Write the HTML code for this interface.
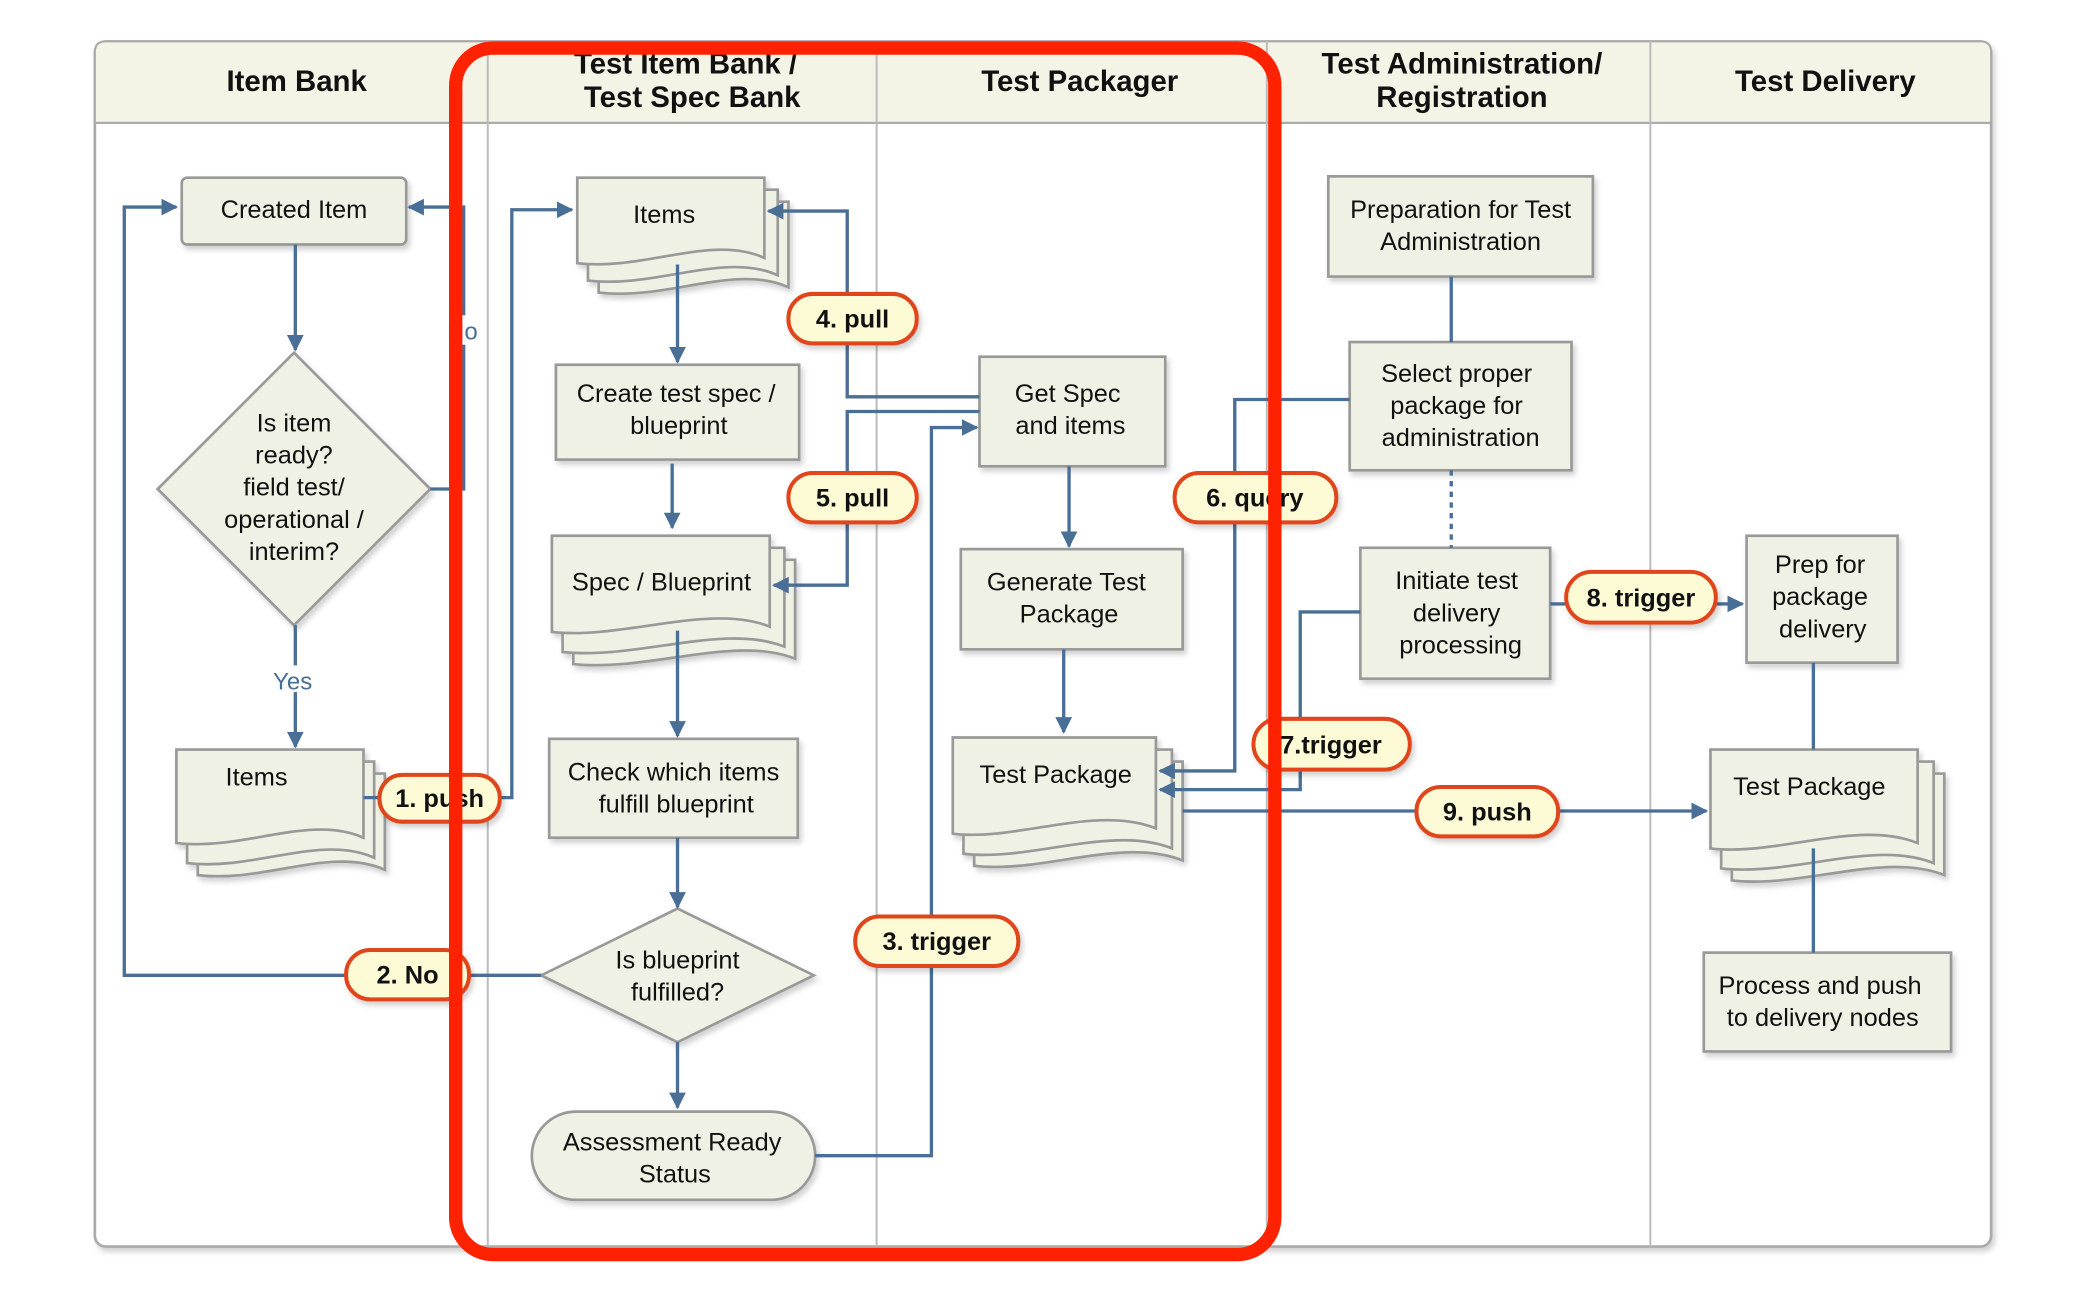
<!DOCTYPE html>
<html><head><meta charset="utf-8"><style>
html,body{margin:0;padding:0;background:#fff;}
svg{display:block;}
text{font-family:"Liberation Sans",sans-serif;}
</style></head><body>
<svg width="2094" height="1296" viewBox="0 0 1567 970" preserveAspectRatio="none" xmlns="http://www.w3.org/2000/svg">
<defs>
<marker id="a" viewBox="0 0 10 10" refX="9" refY="5" markerWidth="5" markerHeight="5" orient="auto-start-reverse"><path d="M0,0 L10,5 L0,10 z" fill="#4a6f96"/></marker>
<filter id="sh" x="-10%" y="-10%" width="130%" height="130%"><feDropShadow dx="2" dy="3" stdDeviation="2" flood-color="#000" flood-opacity="0.18"/></filter>
</defs>
<rect x="71" y="31" width="1419" height="902" rx="8" fill="#fff" stroke="#aaa" stroke-width="2" filter="url(#sh)"/>
<path d="M71,92 V39 Q71,31 79,31 H1482 Q1490,31 1490,39 V92 Z" fill="#f4f4e6" stroke="#aaa" stroke-width="1.5"/>
<line x1="71" y1="92" x2="1490" y2="92" stroke="#aaa" stroke-width="1.5"/>
<g stroke="#bbb" stroke-width="1.5">
<line x1="365" y1="31" x2="365" y2="933"/><line x1="656" y1="31" x2="656" y2="933"/>
<line x1="948" y1="31" x2="948" y2="933"/><line x1="1235" y1="31" x2="1235" y2="933"/>
</g>
<g font-weight="bold" font-size="22" text-anchor="middle" fill="#111">
<text x="222" y="68">Item Bank</text>
<text x="513" y="55">Test Item Bank /</text><text x="518" y="80">Test Spec Bank</text>
<text x="808" y="68">Test Packager</text>
<text x="1094" y="55">Test Administration/</text><text x="1094" y="80">Registration</text>
<text x="1366" y="68">Test Delivery</text>
</g>

<!-- nodes -->
<g fill="#f0f1e5" stroke="#999" stroke-width="2" filter="url(#sh)">
<rect x="136" y="133" width="168" height="50" rx="4"/>
<path d="M220,264 L322,366 L220,468 L118,366 Z"/>
<rect x="416" y="273" width="182" height="71"/>
<rect x="411" y="553" width="186" height="74"/>
<path d="M507,680 L609,730 L507,780 L405,730 Z"/>
<rect x="398" y="832" width="212" height="66" rx="33"/>
<rect x="733" y="267" width="139" height="82"/>
<rect x="719" y="411" width="166" height="75"/>
<rect x="994" y="132" width="198" height="75"/>
<rect x="1010" y="256" width="166" height="96"/>
<rect x="1018" y="410" width="142" height="98"/>
<rect x="1307" y="401" width="113" height="95"/>
<rect x="1275" y="713" width="185" height="74"/>
</g>
<g fill="#f0f1e5" stroke="#999" stroke-width="2">
<g filter="url(#sh)">
<path d="M148,579 h140 v72 c-40,-18 -90,10 -140,4 z"/>
<path d="M140,570 h140 v72 c-40,-18 -90,10 -140,4 z"/>
<path d="M132,561 h140 v66 c-40,-18 -90,10 -140,4 z"/>
</g>
<g filter="url(#sh)">
<path d="M448,151 h142 v64 c-40,-18 -90,10 -142,4 z"/>
<path d="M440,142 h142 v64 c-40,-18 -90,10 -142,4 z"/>
<path d="M432,133 h140 v60 c-40,-18 -90,10 -140,4 z"/>
</g>
<g filter="url(#sh)">
<path d="M429,419 h166 v74 c-45,-18 -110,10 -166,4 z"/>
<path d="M421,410 h166 v74 c-45,-18 -110,10 -166,4 z"/>
<path d="M413,401 h163 v68 c-45,-18 -110,10 -163,4 z"/>
</g>
<g filter="url(#sh)">
<path d="M729,570 h156 v74 c-45,-18 -105,10 -156,4 z"/>
<path d="M721,561 h156 v74 c-45,-18 -105,10 -156,4 z"/>
<path d="M713,552 h152 v68 c-45,-18 -105,10 -152,4 z"/>
</g>
<g filter="url(#sh)">
<path d="M1296,579 h159 v76 c-45,-18 -105,10 -159,4 z"/>
<path d="M1288,570 h159 v76 c-45,-18 -105,10 -159,4 z"/>
<path d="M1280,561 h155 v70 c-45,-18 -105,10 -155,4 z"/>
</g>
</g>

<!-- connectors -->
<g fill="none" stroke="#4a6f96" stroke-width="2.5">
<path d="M221,183 V262" marker-end="url(#a)"/>
<path d="M221,468 V559" marker-end="url(#a)"/>
<path d="M322,366 H347 V155 H306" marker-end="url(#a)"/>
<path d="M272,597 H383 V157 H428" marker-end="url(#a)"/>
<path d="M405,730 H93 V155 H132" marker-end="url(#a)"/>
<path d="M507,198 V271" marker-end="url(#a)"/>
<path d="M503,347 V395" marker-end="url(#a)"/>
<path d="M507,472 V551" marker-end="url(#a)"/>
<path d="M507,627 V679" marker-end="url(#a)"/>
<path d="M507,780 V829" marker-end="url(#a)"/>
<path d="M610,865 H697 V320 H731" marker-end="url(#a)"/>
<path d="M733,297 H634 V158 H575" marker-end="url(#a)"/>
<path d="M733,308 H634 V438 H579" marker-end="url(#a)"/>
<path d="M800,349 V409" marker-end="url(#a)"/>
<path d="M796,486 V548" marker-end="url(#a)"/>
<path d="M1010,299 H924 V577 H868" marker-end="url(#a)"/>
<path d="M1086,207 V256"/>
<path d="M1086,352 V410" stroke-dasharray="4,4"/>
<path d="M1018,458 H973 V591 H868" marker-end="url(#a)"/>
<path d="M1160,452 H1304" marker-end="url(#a)"/>
<path d="M885,607 H1277" marker-end="url(#a)"/>
<path d="M1357,496 V561"/>
<path d="M1357,635 V713"/>
</g>
<rect x="200" y="498" width="38" height="20" fill="#fff"/>
<text x="219" y="516" font-size="18" fill="#4a6f96" text-anchor="middle">Yes</text>
<rect x="334" y="236" width="30" height="22" fill="#fff"/>
<text x="346" y="254" font-size="18" fill="#4a6f96" text-anchor="middle">No</text>

<g font-size="19" fill="#111" text-anchor="middle">
<text x="220" y="163">Created Item</text>
<text x="220" y="323">Is item</text><text x="220" y="347">ready?</text><text x="220" y="371">field test/</text><text x="220" y="395">operational /</text><text x="220" y="419">interim?</text>
<text x="192" y="588">Items</text>
<text x="497" y="167">Items</text>
<text x="506" y="301">Create test spec /</text><text x="508" y="325">blueprint</text>
<text x="495" y="442">Spec / Blueprint</text>
<text x="504" y="584">Check which items</text><text x="506" y="608">fulfill blueprint</text>
<text x="507" y="725">Is blueprint</text><text x="507" y="749">fulfilled?</text>
<text x="503" y="861">Assessment Ready</text><text x="505" y="885">Status</text>
<text x="799" y="301">Get Spec</text><text x="801" y="325">and items</text>
<text x="798" y="442">Generate Test</text><text x="800" y="466">Package</text>
<text x="790" y="586">Test Package</text>
<text x="1093" y="163">Preparation for Test</text><text x="1093" y="187">Administration</text>
<text x="1090" y="286">Select proper</text><text x="1090" y="310">package for</text><text x="1093" y="334">administration</text>
<text x="1090" y="441">Initiate test</text><text x="1090" y="465">delivery</text><text x="1093" y="489">processing</text>
<text x="1362" y="429">Prep for</text><text x="1362" y="453">package</text><text x="1364" y="477">delivery</text>
<text x="1354" y="595">Test Package</text>
<text x="1362" y="744">Process and push</text><text x="1364" y="768">to delivery nodes</text>
</g>

<g fill="#fdfbd5" stroke="#e0451a" stroke-width="3" filter="url(#sh)">
<rect x="284" y="580" width="90" height="35" rx="17"/>
<rect x="259" y="711" width="92" height="37" rx="18"/>
<rect x="590" y="220" width="96" height="37" rx="18"/>
<rect x="590" y="354" width="96" height="37" rx="18"/>
<rect x="640" y="686" width="122" height="37" rx="18"/>
<rect x="879" y="354" width="121" height="37" rx="18"/>
<rect x="938" y="538" width="117" height="38" rx="19"/>
<rect x="1172" y="428" width="112" height="38" rx="19"/>
<rect x="1060" y="589" width="106" height="37" rx="18"/>
</g>
<g font-size="19" font-weight="bold" fill="#111" text-anchor="middle">
<text x="329" y="604">1. push</text>
<text x="305" y="736">2. No</text>
<text x="638" y="245">4. pull</text>
<text x="638" y="379">5. pull</text>
<text x="701" y="711">3. trigger</text>
<text x="939" y="379">6. query</text>
<text x="996" y="564">7.trigger</text>
<text x="1228" y="454">8. trigger</text>
<text x="1113" y="614">9. push</text>
</g>

<rect x="341" y="36" width="613" height="903" rx="28" fill="none" stroke="#ff2200" stroke-width="10"/>
</svg>
</body></html>
